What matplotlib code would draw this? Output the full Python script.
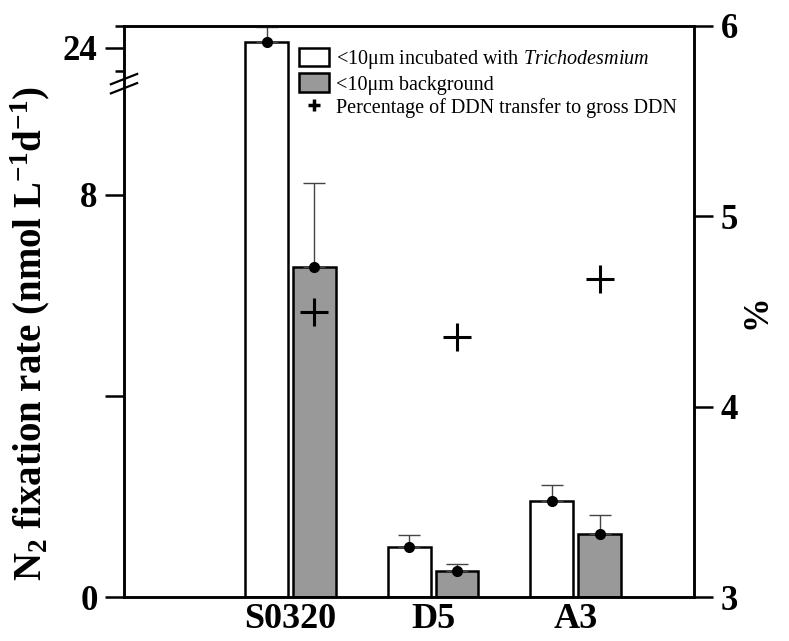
import numpy as np
import matplotlib
matplotlib.use('Agg')
import matplotlib.pyplot as plt
from matplotlib.lines import Line2D
from matplotlib.patches import Patch

# --- Data ---
stations = ['S0320', 'D5', 'A3']
rate_tricho = [24.5, 1.00, 1.90]       # <10um incubated with Trichodesmium (nmol L-1 d-1)
rate_tricho_err = [1.25, 0.24, 0.33]
rate_bg = [6.57, 0.52, 1.25]           # <10um background
rate_bg_err = [1.67, 0.14, 0.39]
pct_transfer = [4.50, 4.365, 4.67]     # % of DDN transfer to gross DDN

left_ticks = [0, 4, 8, 24]
left_ticklabels = ['0', '', '8', '24']
right_ticks = [3, 4, 5, 6]

# --- Broken left axis as a piecewise-linear function scale ---
v_pts = np.array([0.0, 10.25, 24.0, 40.0])
t_pts = np.array([0.0, 10.25, 10.92, 10.92 + 16 * 0.24])


def fwd(v):
    return np.interp(v, v_pts, t_pts)


def inv(t):
    return np.interp(t, t_pts, v_pts)


plt.rcParams['font.family'] = ['Liberation Serif', 'DejaVu Serif']
plt.rcParams['mathtext.fontset'] = 'custom'
plt.rcParams['mathtext.rm'] = 'Liberation Serif'
plt.rcParams['mathtext.it'] = 'Liberation Serif:italic'
plt.rcParams['mathtext.bf'] = 'Liberation Serif:bold'

fig = plt.figure(figsize=(7.89, 6.41), dpi=100)
ax = fig.add_axes([124 / 789, 44 / 641, 570 / 789, 571 / 641])
ax.set_yscale('function', functions=(fwd, inv))

x = np.arange(len(stations))
w = 0.30
off = 0.168
ax.bar(x - off, rate_tricho, w, color='white', edgecolor='black', linewidth=1.8, zorder=2)
ax.bar(x + off, rate_bg, w, color='#999999', edgecolor='black', linewidth=1.8, zorder=2)
ax.errorbar(x - off, rate_tricho, yerr=[np.zeros(3), rate_tricho_err], fmt='o', color='black',
            ms=7, ecolor='#444444', elinewidth=1, capsize=8, capthick=1, zorder=3)
ax.errorbar(x + off, rate_bg, yerr=[np.zeros(3), rate_bg_err], fmt='o', color='black',
            ms=7, ecolor='#444444', elinewidth=1, capsize=8, capthick=1, zorder=3)

ax.set_xlim(-1.168, 2.83)
ax.set_ylim(0, 25.8)
ax.set_yticks(left_ticks)
ax.set_yticklabels(left_ticklabels)
ax.set_yticks([inv(10.45), 25.8], minor=True)
ax.set_xticks(x)
ax.set_xticklabels(stations)
ax.tick_params(axis='x', length=0, pad=4, labelsize=26)
ax.tick_params(axis='y', which='major', direction='out', length=14, width=1.8, pad=5, labelsize=25)
ax.tick_params(axis='y', which='minor', direction='out', length=6.5, width=1.8, labelleft=False)
for lab in ax.get_xticklabels() + ax.get_yticklabels():
    lab.set_fontweight('bold')
for sp in ax.spines.values():
    sp.set_linewidth(1.8)
ax.set_ylabel(r'N$_\mathbf{2}$ fixation rate (nmol L$^\mathbf{-1}$d$^\mathbf{-1}$)',
              fontsize=28, fontweight='bold')
ax.yaxis.set_label_coords(-0.127, 0.462)

# axis break marks
for dy in (0.0, 0.016):
    ax.plot([-0.023, 0.023], [0.898 - dy, 0.916 - dy], transform=ax.transAxes, color='black',
            lw=1.6, clip_on=False, zorder=5)

# --- Right axis: percentage ---
ax2 = ax.twinx()
ax2.plot(x + off, pct_transfer, '+', color='black', ms=20, mew=2.2, zorder=4)
ax2.set_ylim(3, 6)
ax2.set_yticks(right_ticks)
ax2.tick_params(axis='y', direction='out', length=14, width=1.8, pad=5, labelsize=25)
for lab in ax2.get_yticklabels():
    lab.set_fontweight('bold')
for sp in ax2.spines.values():
    sp.set_linewidth(1.8)
ax2.set_ylabel('%', fontsize=25, fontweight='bold', labelpad=2)

handles = [Patch(facecolor='white', edgecolor='black', linewidth=1.8),
           Patch(facecolor='#999999', edgecolor='black', linewidth=1.8),
           Line2D([], [], ls='none', marker='+', color='black', ms=9, mew=2.5)]
labels = ['<10\u03bcm incubated with $\\it{Trichodesmium}$', '<10\u03bcm background',
          'Percentage of DDN transfer to gross DDN']
leg = ax2.legend(handles, labels, loc='upper left', bbox_to_anchor=(0.307, 0.962), frameon=False,
                 fontsize=14.5, handlelength=1.5, handleheight=1.05, labelspacing=0.12,
                 handletextpad=0.35, borderaxespad=0, borderpad=0)

fig.savefig('out.png', dpi=100)
